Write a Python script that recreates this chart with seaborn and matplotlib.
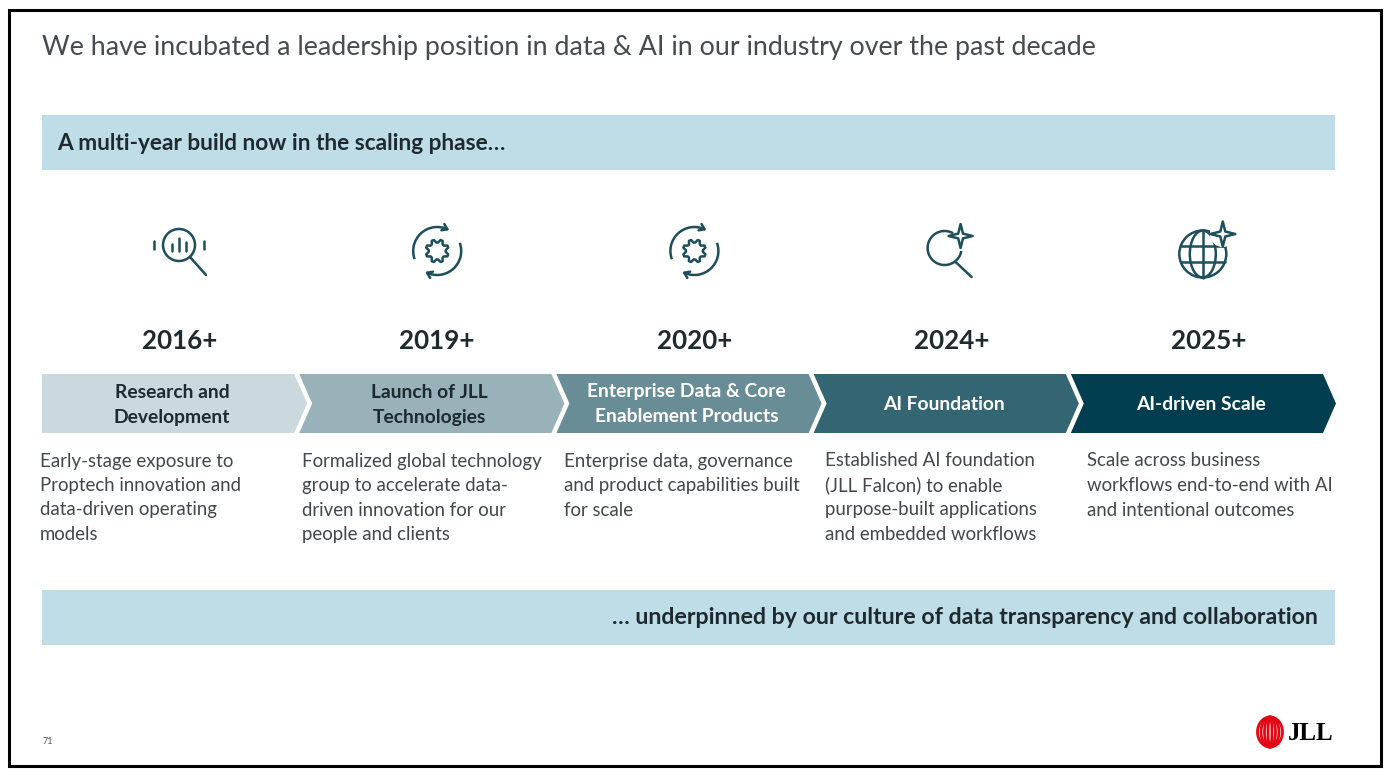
import numpy as np
import matplotlib
matplotlib.use("Agg")
import matplotlib.pyplot as plt
import seaborn as sns
from matplotlib.patches import Polygon, Rectangle, Circle, Arc, Ellipse

# ---- data -------------------------------------------------------------
title = "We have incubated a leadership position in data & AI in our industry over the past decade"
top_band = "A multi-year build now in the scaling phase\u2026"
bottom_band = "\u2026 underpinned by our culture of data transparency and collaboration"
years = ["2016+", "2019+", "2020+", "2024+", "2025+"]
phases = ["Research and\nDevelopment", "Launch of JLL\nTechnologies",
          "Enterprise Data & Core\nEnablement Products", "AI Foundation", "AI-driven Scale"]
descriptions = [
    "Early-stage exposure to\nProptech innovation and\ndata-driven operating\nmodels",
    "Formalized global technology\ngroup to accelerate data-\ndriven innovation for our\npeople and clients",
    "Enterprise data, governance\nand product capabilities built\nfor scale",
    "Established AI foundation\n(JLL Falcon) to enable\npurpose-built applications\nand embedded workflows",
    "Scale across business\nworkflows end-to-end with AI\nand intentional outcomes",
]
icons = ["chart_search", "gear_cycle", "gear_cycle", "ai_search", "ai_globe"]
page_no = "71"

# ---- style ------------------------------------------------------------
chev_colors = ["#cbd8de", "#99b2ba", "#698d97", "#346572", "#033e50"]
chev_text = ["#1e2a30", "#1e2a30", "white", "white", "white"]
band_color = "#bfdde6"
icon_color = "#1d4e5c"
dark = "#1e2a30"
body = "#41474c"
LW = 1.8

sns.set_theme(style="white")
plt.rcParams["font.family"] = ["Lato", "DejaVu Sans"]

fig = plt.figure(figsize=(13.9, 7.76), dpi=100)
ax = fig.add_axes([0, 0, 1, 1])
ax.set_xlim(0, 1390)
ax.set_ylim(776, 0)
ax.axis("off")

# slide frame
ax.add_patch(Rectangle((9, 10), 1372, 756, fill=False, ec="black", lw=2.2))

ax.text(42, 48, title, fontsize=19.3, weight="normal", color="#454b50", va="center", ha="left")

# bands
ax.add_patch(Rectangle((42, 115), 1293, 55, fc=band_color, ec="none"))
ax.text(57, 143, top_band, fontsize=16.3, weight="bold", color=dark, va="center", ha="left")
ax.add_patch(Rectangle((42, 590), 1293, 55, fc=band_color, ec="none"))
ax.text(1318, 618, bottom_band, fontsize=16.7, weight="bold", color=dark, va="center", ha="right")


# ---- icons ------------------------------------------------------------
def vis(cx, cy, r, a):
    # point on a circle at visual angle a (degrees, counter-clockwise, y axis inverted)
    t = np.radians(a)
    return cx + r * np.cos(t), cy - r * np.sin(t)


def vis_arc(cx, cy, w, h, a0, a1, z=2):
    # arc drawn counter-clockwise on screen from visual angle a0 to a1
    ax.add_patch(Arc((cx, cy), w, h, theta1=-a1, theta2=-a0, color=icon_color, lw=LW, zorder=z))


def arrow_head(cx, cy, r, a, cw=True, size=6):
    px, py = vis(cx, cy, r, a)
    t = np.radians(a)
    # direction of travel on screen (x right, y up)
    if cw:
        d = np.array([np.sin(t), -np.cos(t)])
    else:
        d = np.array([-np.sin(t), np.cos(t)])
    for rot in (np.radians(145), np.radians(-145)):
        rd = np.array([d[0] * np.cos(rot) - d[1] * np.sin(rot), d[0] * np.sin(rot) + d[1] * np.cos(rot)])
        ax.plot([px, px + size * rd[0]], [py, py - size * rd[1]], color=icon_color, lw=LW,
                solid_capstyle="round")


def gear(cx, cy, r_out=11.5, r_in=8.5, teeth=8):
    pts = []
    n = teeth * 4
    for k in range(n):
        a = 2 * np.pi * (k + 0.5) / n
        rr = r_out if (k % 4) in (1, 2) else r_in
        pts.append((cx + rr * np.cos(a), cy + rr * np.sin(a)))
    ax.add_patch(Polygon(pts, closed=True, fill=False, ec=icon_color, lw=LW, joinstyle="round"))


def sparkle(cx, cy, s):
    pts = []
    for k in range(8):
        a = np.pi / 4 * k
        rr = s if k % 2 == 0 else s * 0.28
        pts.append((cx + rr * np.cos(a), cy - rr * np.sin(a)))
    ax.add_patch(Polygon(pts, closed=True, fill=False, ec=icon_color, lw=LW, joinstyle="round", zorder=4))


def draw_icon(kind, cx, cy):
    if kind == "chart_search":
        ax.add_patch(Circle((cx - 1, cy - 5), 16, fill=False, ec=icon_color, lw=LW))
        ax.plot([cx + 10, cx + 26], [cy + 7, cy + 25], color=icon_color, lw=LW)
        for dx, h in [(-8, 7), (-1, 13), (6, 9)]:
            ax.plot([cx + dx, cx + dx], [cy - 5 + 6 - h, cy - 5 + 6], color=icon_color, lw=LW)
        for dx in (-26, 24):
            ax.plot([cx + dx, cx + dx], [cy - 9, cy - 1], color=icon_color, lw=LW)
    elif kind == "gear_cycle":
        r = 24
        cy = cy + 1
        vis_arc(cx, cy, 2 * r, 2 * r, 65, 200)
        vis_arc(cx, cy, 2 * r, 2 * r, 245, 380)
        arrow_head(cx, cy, r, 65, cw=True)
        arrow_head(cx, cy, r, 245, cw=True)
        gear(cx, cy)
    elif kind == "ai_search":
        vis_arc(cx - 7, cy - 2, 34, 34, 60, 350)
        ax.plot([cx + 4, cx + 20], [cy + 12, cy + 27], color=icon_color, lw=LW)
        sparkle(cx + 9, cy - 14, 12)
    elif kind == "ai_globe":
        r = 23.5
        gx, gy = cx - 6, cy + 4
        ax.add_patch(Circle((gx, gy), r, fill=False, ec=icon_color, lw=LW, zorder=2))
        ax.add_patch(Ellipse((gx, gy), 26, 2 * r, fill=False, ec=icon_color, lw=LW, zorder=2))
        ax.plot([gx, gx], [gy - r, gy + r], color=icon_color, lw=LW, zorder=2)
        for dy in (-8, 8):
            half = np.sqrt(r ** 2 - dy ** 2)
            ax.plot([gx - half, gx + half], [gy + dy, gy + dy], color=icon_color, lw=LW, zorder=2)
        ax.add_patch(Circle((cx + 14, cy - 16), 13, fc="white", ec="none", zorder=3))
        sparkle(cx + 14, cy - 16, 12.5)


# ---- chevrons ---------------------------------------------------------
pitch, gap, tip = 257.2, 5, 13
top, bot = 374, 433
mid = (top + bot) / 2
for i, (yr, ph, desc, ic) in enumerate(zip(years, phases, descriptions, icons)):
    x0 = 42 + i * pitch
    x1 = x0 + pitch - gap
    pts = [(x0, top), (x1, top), (x1 + tip, mid), (x1, bot), (x0, bot)]
    if i > 0:
        pts.append((x0 + tip, mid))
    ax.add_patch(Polygon(pts, closed=True, fc=chev_colors[i], ec="none"))

    lines = ph.split("\n")
    cx = x0 + 130
    y_first = mid + 1 - 12.5 * (len(lines) - 1)
    for k, line in enumerate(lines):
        ax.text(cx, y_first + 25 * k, line, fontsize=13.9, weight="bold", color=chev_text[i],
                ha="center", va="center")

    ycx = x0 + 138
    ax.text(ycx, 341, yr, fontsize=18.7, weight="bold", color=dark, ha="center", va="center")
    draw_icon(ic, ycx, 250)

    dx = 40 + i * 261.8
    for k, line in enumerate(desc.split("\n")):
        ax.text(dx, 461 + 24.5 * k, line, fontsize=13.4, weight="normal", color=body,
                ha="left", va="center")

# page number and logo
ax.text(43, 742, page_no, fontsize=6.5, color="#555555", ha="left", va="center")
for w in (25, 18, 11, 4):
    ax.add_patch(Ellipse((1270, 732), w, 30, fill=False, ec="#e30613", lw=2.0))
ax.text(1288, 733, "JLL", fontsize=18, weight="bold", family=["Liberation Serif", "DejaVu Serif"],
        color="black", ha="left", va="center")

fig.savefig("out.png", dpi=100, facecolor="white")
